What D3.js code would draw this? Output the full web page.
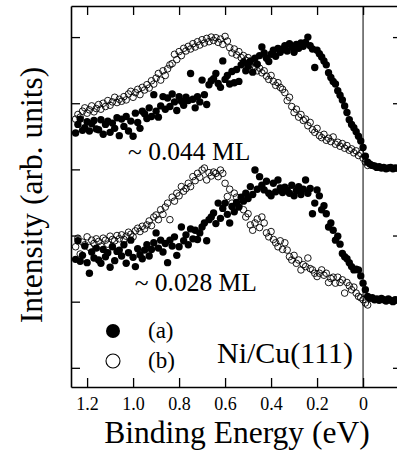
<!DOCTYPE html>
<html>
<head>
<meta charset="utf-8">
<script src="https://cdn.jsdelivr.net/npm/d3@7/dist/d3.min.js"></script>
<style>
  html, body { margin: 0; padding: 0; background: #fff; overflow: hidden; }
</style>
</head>
<body>
<svg id="chart" width="397" height="453"></svg>
<script>
// binding energy grid (eV), shared by all four spectra
const energy = [
  1.25, 1.24, 1.23, 1.22, 1.21, 1.20, 1.19, 1.18, 1.17, 1.16,
  1.15, 1.14, 1.13, 1.12, 1.11, 1.10, 1.09, 1.08, 1.07, 1.06,
  1.05, 1.04, 1.03, 1.02, 1.01, 1.00, 0.99, 0.98, 0.97, 0.96,
  0.95, 0.94, 0.93, 0.92, 0.91, 0.90, 0.89, 0.88, 0.87, 0.86,
  0.85, 0.84, 0.83, 0.82, 0.81, 0.80, 0.79, 0.78, 0.77, 0.76,
  0.75, 0.74, 0.73, 0.72, 0.71, 0.70, 0.69, 0.68, 0.67, 0.66,
  0.65, 0.64, 0.63, 0.62, 0.61, 0.60, 0.59, 0.58, 0.57, 0.56,
  0.55, 0.54, 0.53, 0.52, 0.51, 0.50, 0.49, 0.48, 0.47, 0.46,
  0.45, 0.44, 0.43, 0.42, 0.41, 0.40, 0.39, 0.38, 0.37, 0.36,
  0.35, 0.34, 0.33, 0.32, 0.31, 0.30, 0.29, 0.28, 0.27, 0.26,
  0.25, 0.24, 0.23, 0.22, 0.21, 0.20, 0.19, 0.18, 0.17, 0.16,
  0.15, 0.14, 0.13, 0.12, 0.11, 0.10, 0.09, 0.08, 0.07, 0.06,
  0.05, 0.04, 0.03, 0.02, 0.01, 0.00, -0.01, -0.02, -0.03, -0.04,
  -0.05, -0.06, -0.07, -0.08, -0.09, -0.10, -0.11, -0.12, -0.13, -0.14,
  -0.15, -0.16
];

// ~0.044 ML, spectrum (a) - filled
const ml044_a = [
  45.5, 46.8, 47.6, 45.9, 46.3, 47.2, 45.8, 46.9, 47.4, 46.1,
  46.0, 47.5, 45.3, 46.8, 47.3, 45.6, 47.0, 46.2, 47.8, 45.1,
  47.6, 46.5, 48.0, 45.8, 47.3, 45.0, 48.5, 47.1, 46.2, 48.8,
  48.4, 47.7, 49.3, 48.0, 51.3, 48.8, 47.9, 49.6, 51.0, 49.1,
  50.8, 49.5, 51.4, 50.2, 48.9, 51.0, 50.3, 49.7, 50.9, 50.4,
  54.5, 50.6, 49.3, 51.0, 50.2, 53.5, 51.3, 49.8, 52.8, 53.4,
  53.7, 54.5, 53.0, 52.4, 56.4, 53.6, 54.2, 52.9, 54.8, 53.1,
  55.1, 53.3, 55.8, 56.2, 54.9, 55.6, 56.4, 54.7, 56.8, 55.9,
  57.2, 58.5, 57.6, 56.8, 56.3, 57.4, 58.0, 57.1, 58.3, 57.7,
  58.2, 58.7, 57.9, 59.0, 58.5, 57.7, 58.9, 58.3, 59.1, 58.6,
  59.2, 60.0, 58.7, 58.2, 55.4, 58.0, 57.5, 57.0, 56.4, 55.8,
  54.6, 53.9, 53.3, 52.9, 51.9, 51.2, 50.5, 49.6, 48.6, 47.5,
  46.8, 46.3, 45.7, 45.0, 44.3, 43.3, 42.0, 41.1, 40.8, 40.6,
  40.5, 40.3, 40.4, 40.2, 40.3, 40.1, 40.2, 40.3, 40.1, 40.2,
  40.2, 40.1
];

// ~0.044 ML, spectrum (b) - open
const ml044_b = [
  47.6, 48.3, 47.9, 48.8, 49.3, 48.5, 49.0, 49.6, 48.7, 49.2,
  49.8, 49.1, 50.0, 49.5, 50.4, 49.7, 50.2, 50.9, 50.1, 50.6,
  50.3, 51.0, 50.5, 51.4, 51.8, 50.9, 51.6, 52.1, 51.3, 52.4,
  52.0, 52.8, 52.3, 53.4, 52.9, 53.8, 54.5, 53.5, 54.9, 54.2,
  55.2, 55.8, 56.0, 57.4, 56.6, 57.8, 57.2, 58.3, 57.9, 58.6,
  58.2, 59.0, 58.5, 59.3, 58.8, 59.6, 59.1, 59.8, 59.3, 60.0,
  59.5, 59.9, 59.2, 59.7, 58.9, 60.1, 59.4, 58.4, 57.6, 58.2,
  57.3, 57.8, 56.9, 57.2, 56.5, 56.9, 55.8, 56.3, 55.5, 54.9,
  55.3, 54.6, 54.9, 54.1, 53.6, 54.2, 53.3, 52.7, 53.1, 52.4,
  52.1, 51.6, 50.4, 50.9, 49.5, 48.6, 49.1, 47.9, 48.3, 47.4,
  47.6, 46.6, 47.1, 46.0, 45.6, 46.2, 45.1, 44.8, 45.3, 44.4,
  44.7, 44.2, 44.9, 43.8, 44.1, 43.5, 43.9, 43.2, 43.6, 42.9,
  43.1, 42.5, 42.8, 42.1, 42.4, 41.7, 41.1, 40.6
];

// ~0.028 ML, spectrum (a) - filled
const ml028_a = [
  26.4, 29.2, 26.1, 27.0, 28.4, 25.9, 24.3, 27.5, 26.6, 28.1,
  26.3, 25.8, 27.9, 26.8, 27.4, 25.2, 28.3, 26.2, 27.6, 27.8,
  26.9, 28.6, 25.8, 27.4, 29.3, 26.7, 25.3, 28.0, 27.1, 26.5,
  27.8, 28.6, 26.9, 27.9, 28.9, 30.4, 28.1, 29.3, 27.5, 28.8,
  25.9, 29.3, 28.4, 29.8, 27.0, 28.3, 31.3, 29.2, 30.1, 28.6,
  31.0, 29.5, 30.8, 29.4, 30.4, 31.3, 31.9, 29.2, 32.4, 32.8,
  33.4, 31.8, 34.9, 32.6, 34.1, 34.9, 33.2, 31.9, 34.4, 33.6,
  35.0, 34.3, 35.8, 35.2, 36.4, 35.6, 37.4, 36.2, 39.9, 37.0,
  38.9, 37.6, 36.9, 38.2, 36.4, 36.0, 37.9, 36.6, 38.4, 37.2,
  36.5, 37.3, 36.9, 36.4, 37.6, 36.0, 36.8, 37.4, 36.2, 37.0,
  38.4, 36.4, 37.1, 33.3, 34.9, 36.9, 36.0, 33.9, 34.5, 33.3,
  31.3, 31.9, 30.8, 29.3, 29.9, 28.7, 27.3, 26.8, 26.5, 25.9,
  25.3, 24.8, 24.9, 24.8, 23.9, 22.8, 21.8, 20.8, 20.5, 20.6,
  20.3, 20.4, 20.2, 20.5, 20.3, 20.1, 20.4, 20.2, 20.0, 20.3,
  20.2, 20.1
];

// ~0.028 ML, spectrum (b) - open
const ml028_b = [
  28.3, 29.6, 27.2, 29.0, 28.6, 29.8, 28.2, 29.3, 28.8, 29.5,
  29.1, 28.4, 29.6, 29.3, 28.7, 29.9, 29.4, 29.2, 30.0, 29.5,
  30.1, 29.4, 29.9, 30.5, 30.2, 29.8, 30.7, 31.1, 30.6, 31.4,
  31.0, 31.6, 32.2, 31.5, 32.8, 33.1, 32.4, 33.9, 33.2, 34.3,
  34.9, 32.4, 35.8, 35.2, 36.4, 36.0, 37.4, 36.7, 37.1, 37.9,
  37.4, 38.9, 38.3, 39.4, 38.8, 39.9, 40.2, 38.4, 39.5, 39.0,
  39.6, 39.4, 38.9, 39.9, 39.4, 37.9, 35.9, 37.0, 34.9, 36.4,
  35.8, 34.6, 35.4, 33.9, 32.8, 33.3, 31.6, 30.8, 31.9, 32.5,
  31.2, 32.8, 31.9, 30.4, 29.8, 30.6, 29.4, 28.9, 28.3, 29.2,
  27.9, 28.9, 27.8, 26.8, 26.3, 27.0, 25.8, 26.3, 24.8, 25.6,
  25.3, 26.6, 25.0, 24.8, 24.3, 23.8, 24.3, 24.8, 24.0, 24.3,
  22.9, 23.5, 23.7, 22.8, 23.7, 22.9, 23.3, 21.3, 22.9, 22.4,
  21.8, 22.2, 21.3, 20.8, 20.6, 20.3, 19.8, 19.5
];

const xTicks = [1.2, 1.0, 0.8, 0.6, 0.4, 0.2, 0];
const xTickLabels = ['1.2', '1.0', '0.8', '0.6', '0.4', '0.2', '0'];
const yTicks = [10, 20, 30, 40, 50, 60];
const coverageLabels = ['~ 0.044 ML', '~ 0.028 ML'];
const legendLabels = ['(a)', '(b)'];

const serifFont = "'Liberation Serif'";

const svg = d3.select('#chart'),
  margin = {top: 6, left: 71, bottom: 66, right: -4},
  width = +svg.attr('width') - margin.left - margin.right,
  height = +svg.attr('height') - margin.top - margin.bottom;

const x = d3.scaleLinear().domain([1.27, -0.165]).range([0, width]);
const y = d3.scaleLinear().domain([7.1, 64.7]).range([height, 0]);

const g = svg.append('g')
  .attr('transform', 'translate(' + margin.left + ',' + margin.top + ')');

// zero line
g.append('line')
  .attr('x1', x(0)).attr('x2', x(0))
  .attr('y1', 0).attr('y2', height)
  .attr('stroke', '#000').attr('stroke-width', 1);

function pts(vals) {
  return vals.map(function(v, i) { return [energy[i], v]; });
}

function filled(data) {
  g.append('g').selectAll('circle')
    .data(data)
    .enter().append('circle')
    .attr('cx', function(d) { return x(d[0]); })
    .attr('cy', function(d) { return y(d[1]); })
    .attr('r', 3.7)
    .attr('fill', '#000');
}

function open(data) {
  g.append('g').selectAll('circle')
    .data(data)
    .enter().append('circle')
    .attr('cx', function(d) { return x(d[0]); })
    .attr('cy', function(d) { return y(d[1]); })
    .attr('r', 3.3)
    .attr('fill', 'none')
    .attr('stroke', '#000')
    .attr('stroke-width', 0.9);
}

filled(pts(ml044_a));
filled(pts(ml028_a));
open(pts(ml044_b));
open(pts(ml028_b));

// axes, ticks pointing inward
const fmt = function(d) { return xTickLabels[xTicks.indexOf(d)]; };

const xb = g.append('g')
  .attr('transform', 'translate(0,' + height + ')')
  .call(d3.axisBottom(x).tickValues(xTicks).tickFormat(fmt)
    .tickSize(-9).tickSizeOuter(0).tickPadding(10));
xb.selectAll('text').style('font-family', serifFont).style('font-size', '18px');

g.append('g')
  .call(d3.axisTop(x).tickValues(xTicks).tickFormat('')
    .tickSize(-9).tickSizeOuter(0));

g.append('g')
  .call(d3.axisLeft(y).tickValues(yTicks).tickFormat('')
    .tickSize(-9).tickSizeOuter(0));

g.append('g')
  .attr('transform', 'translate(' + width + ',0)')
  .call(d3.axisRight(y).tickValues(yTicks).tickFormat('')
    .tickSize(-8).tickSizeOuter(0));

g.selectAll('.domain').attr('stroke', '#000').attr('stroke-width', 1.6);
g.selectAll('.tick line').attr('stroke', '#000').attr('stroke-width', 1.3);

function label(sel, size) {
  return sel.style('font-family', serifFont).style('font-size', size + 'px').attr('fill', '#000');
}

// axis titles
label(svg.append('text'), 31.5)
  .attr('x', 237).attr('y', 443)
  .attr('text-anchor', 'middle')
  .text('Binding Energy (eV)');

label(svg.append('text'), 31.5)
  .attr('transform', 'translate(42,195) rotate(-90)')
  .attr('text-anchor', 'middle')
  .text('Intensity (arb. units)');

// coverage labels
label(g.append('text'), 25.5)
  .attr('x', x(1.0) - 5).attr('y', y(41.4))
  .text(coverageLabels[0]);

label(g.append('text'), 25.5)
  .attr('x', x(0.98) - 3).attr('y', y(21.6))
  .text(coverageLabels[1]);

// legend
const legend = g.append('g').attr('transform', 'translate(42,325)');
legend.append('circle').attr('cx', 0).attr('cy', 0).attr('r', 7).attr('fill', '#000');
legend.append('circle').attr('cx', 0).attr('cy', 30).attr('r', 7)
  .attr('fill', 'none').attr('stroke', '#000').attr('stroke-width', 1.1);
label(legend.selectAll('text.lab')
  .data(legendLabels)
  .enter().append('text')
  .attr('class', 'lab'), 23)
  .attr('x', 35)
  .attr('y', function(d, i) { return 7 + i * 30; })
  .text(function(d) { return d; });

label(g.append('text'), 30)
  .attr('x', 146).attr('y', 357)
  .text('Ni/Cu(111)');
</script>
</body>
</html>
